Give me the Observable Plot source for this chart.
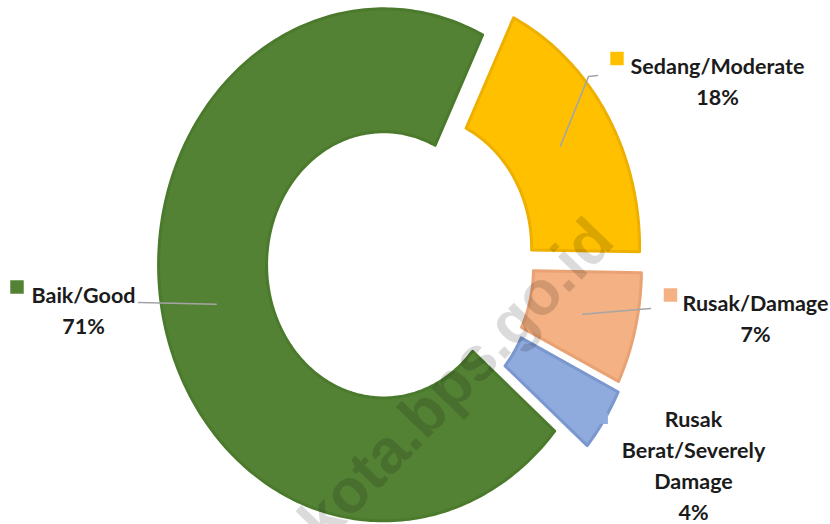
<!DOCTYPE html>
<html>
<head>
<meta charset="utf-8">
<script src="https://cdn.jsdelivr.net/npm/d3@7"></script>
<script src="https://cdn.jsdelivr.net/npm/@observablehq/plot@0.6"></script>
<style>
  html, body { margin: 0; padding: 0; background: #ffffff; }
  #chart svg { display: block; }
</style>
</head>
<body>
<div id="chart"></div>
<script>
// ---- data ----
const categories = ["Baik/Good", "Sedang/Moderate", "Rusak/Damage", "Rusak Berat/Severely Damage"];
const values = [71, 18, 7, 4];
const labelLines = [["Baik/Good"], ["Sedang/Moderate"], ["Rusak/Damage"], ["Rusak", "Berat/Severely", "Damage"]];
const watermark = "kota.bps.go.id";

// ---- styles / layout ----
const fills   = ["#548235", "#FFC000", "#F4B183", "#8FAADC"];
const strokes = ["#4B7A2D", "#EEB000", "#E9A273", "#7B97CF"];
const explode = [0.045, 0.11, 0.105, 0.12];
const W = 830, H = 524, CX = 393, CY = 262, RX = 225, RY = 256;
const INNER = 0.52, START_DEG = 130.5, LEADER_R = 0.76;
const labelPos  = [[83, 280], [717, 51], [755, 288], [693, 404]];     // px: centre x, cap-top y
const leaderEnd = [[[138, 302]], [[588, 76], [597, 75]], [[650, 308]], null];
const swatchPos = [[16.5, 286.5], [616.5, 58], [670, 294.5], null];
const FONT = "Lato, 'Open Sans', sans-serif";
const FONT_SIZE = 21.5;

const ux = px => (px - CX) / RX;
const uy = py => (CY - py) / RY;

// ---- geometry from the data ----
const rad = Math.PI / 180;
const arcs = d3.pie().sort(null)
  .startAngle(START_DEG * rad)
  .endAngle((START_DEG + 360) * rad)(values);

const slices = arcs.map((a, i) => {
  const mid = (a.startAngle + a.endAngle) / 2;
  const ox = explode[i] * Math.sin(mid), oy = explode[i] * Math.cos(mid);
  const n = Math.max(8, Math.ceil((a.endAngle - a.startAngle) / rad));
  const pts = [];
  for (let k = 0; k <= n; k++) {
    const t = a.startAngle + (a.endAngle - a.startAngle) * k / n;
    pts.push({x: ox + Math.sin(t), y: oy + Math.cos(t)});
  }
  for (let k = n; k >= 0; k--) {
    const t = a.startAngle + (a.endAngle - a.startAngle) * k / n;
    pts.push({x: ox + INNER * Math.sin(t), y: oy + INNER * Math.cos(t)});
  }
  const r = LEADER_R + explode[i];
  const anchor = {x: r * Math.sin(mid), y: r * Math.cos(mid)};
  return {i, cat: categories[i], value: values[i], pts, anchor, mid, ox, oy};
});

// leader lines
const leaders = [];
slices.forEach(s => {
  const end = leaderEnd[s.i];
  if (!end) return;
  leaders.push({z: s.i, x: s.anchor.x, y: s.anchor.y});
  end.forEach(([px, py]) => leaders.push({z: s.i, x: ux(px), y: uy(py)}));
});

// small stub of the last slice's leader, sticking out of its outer edge
const last = slices[3];
const stubA = {x: last.ox + 0.99 * Math.sin(last.mid), y: last.oy + 0.99 * Math.cos(last.mid)};
const stub = [{x: stubA.x - 0.01, y: stubA.y}, {x: stubA.x + 0.025, y: stubA.y}];

const labels = slices.map(s => ({
  x: ux(labelPos[s.i][0]), y: uy(labelPos[s.i][1]),
  text: [...labelLines[s.i], s.value + "%"].join("\n")
}));
const swatches = slices.filter(s => swatchPos[s.i]).map(s => ({
  x: ux(swatchPos[s.i][0]), y: uy(swatchPos[s.i][1]), fill: fills[s.i]
}));

const chart = Plot.plot({
  width: W, height: H,
  marginTop: 0, marginRight: 0, marginBottom: 0, marginLeft: 0,
  x: {domain: [ux(0), ux(W)], axis: null},
  y: {domain: [uy(H), uy(0)], axis: null},
  style: {background: "#ffffff", fontFamily: FONT},
  marks: [
    ...slices.map(s => Plot.line(s.pts, {
      x: "x", y: "y", curve: "linear-closed",
      fill: fills[s.i], stroke: strokes[s.i], strokeWidth: 3, strokeLinejoin: "round"
    })),
    Plot.line(stub, {x: "x", y: "y", stroke: fills[3], strokeWidth: 11, strokeLinecap: "butt"}),
    Plot.line(leaders, {x: "x", y: "y", z: "z", stroke: "#A5A5A5", strokeWidth: 1.6}),
    Plot.dot(swatches, {x: "x", y: "y", symbol: "square", r: 7.6, fill: d => d.fill, stroke: "none"}),
    Plot.text(labels, {
      x: "x", y: "y", text: "text", textAnchor: "middle", lineAnchor: "top",
      lineHeight: 31 / FONT_SIZE, fontSize: FONT_SIZE, fontWeight: "bold", fill: "#1b1b1b", fontFamily: FONT
    }),
    Plot.text([{x: ux(456), y: uy(380)}], {
      x: "x", y: "y", text: () => watermark, rotate: -46, fontSize: 62, fontWeight: "bold",
      fontFamily: "'Liberation Sans', Arial, sans-serif", fill: "#000000", fillOpacity: 0.14,
      textAnchor: "middle", lineAnchor: "middle"
    })
  ]
});
document.getElementById("chart").appendChild(chart);
</script>
</body>
</html>
